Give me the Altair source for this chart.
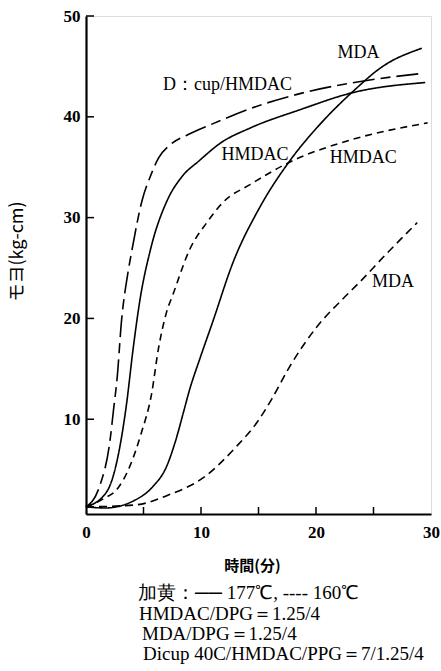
import altair as alt
import pandas as pd

# ---- data ----
dicup_t = [0, 1.2, 2.1, 2.4, 2.7, 3.1, 3.6, 4.0, 4.9, 5.6, 6.3, 7.3, 8.8, 10.8, 14.5, 18.6, 24.4, 29.2]
dicup_v = [1.3, 3.4, 8.0, 11.0, 14.0, 19.9, 24.2, 26.8, 31.8, 34.1, 35.9, 37.2, 38.2, 39.2, 40.9, 42.3, 43.6, 44.3]

hm177_t = [0, 1.8, 2.9, 3.5, 4.1, 4.7, 5.6, 7.1, 8.3, 9.9, 11.7, 14.3, 18.6, 23.2, 29.5]
hm177_v = [1.3, 2.8, 7.0, 11.3, 17.0, 21.9, 26.8, 31.8, 34.0, 35.7, 37.4, 38.9, 40.7, 42.4, 43.4]

hm160_t = [0, 1.5, 2.8, 3.8, 4.8, 5.7, 6.3, 7.0, 7.6, 9.0, 10.5, 11.9, 14.3, 17.7, 23.0, 29.7]
hm160_v = [1.3, 2.1, 3.2, 5.3, 8.6, 12.5, 17.0, 20.6, 22.5, 26.8, 29.5, 31.5, 33.3, 35.5, 37.7, 39.4]

mda177_t = [0, 1.7, 4.3, 5.8, 7.0, 7.8, 8.5, 9.0, 9.9, 11.0, 12.8, 15.1, 17.7, 20.3, 23.2, 25.8, 29.2]
mda177_v = [1.3, 1.2, 2.0, 3.3, 5.3, 7.9, 10.8, 12.9, 16.0, 19.6, 25.6, 31.0, 35.6, 39.2, 42.5, 45.0, 46.8]

mda160_t = [0, 4.3, 7.2, 10.2, 13.0, 15.0, 16.1, 17.7, 20.1, 22.3, 23.8, 26.2, 28.8]
mda160_v = [1.3, 1.5, 2.5, 4.2, 7.2, 9.9, 11.9, 15.2, 19.2, 21.9, 23.6, 26.5, 29.5]

label_text = ["MDA", "D：cup/HMDAC", "HMDAC", "HMDAC", "MDA"]
label_t = [23.7, 12.3, 14.7, 24.1, 26.7]
label_v = [46.3, 43.2, 36.2, 35.9, 23.6]

x_ticks = [0, 5, 10, 15, 20, 25, 30]
y_ticks = [10, 20, 30, 40, 50]

footer_lines = [
    "加黄：── 177℃, ---- 160℃",
    "HMDAC/DPG＝1.25/4",
    "MDA/DPG＝1.25/4",
    "Dicup 40C/HMDAC/PPG＝7/1.25/4",
]

W, H = 345, 498
SERIF = "Liberation Serif"
CJK = "Noto Sans CJK JP"

rows = []
for name, ts, vs in [("dicup", dicup_t, dicup_v), ("hm177", hm177_t, hm177_v),
                     ("hm160", hm160_t, hm160_v), ("mda177", mda177_t, mda177_v),
                     ("mda160", mda160_t, mda160_v)]:
    for i, (t, v) in enumerate(zip(ts, vs)):
        rows.append({"series": name, "t": t, "v": v, "o": i})
df = pd.DataFrame(rows)

xs = alt.Scale(domain=[0, 30], nice=False)
ys = alt.Scale(domain=[0.6, 50], nice=False)

dash_map = {"dicup": [22, 6, 10, 6], "hm177": [1, 0], "hm160": [7, 5],
            "mda177": [1, 0], "mda160": [8, 5]}

lines = []
for name, dash in dash_map.items():
    lines.append(
        alt.Chart(df[df.series == name]).mark_line(
            color="black", strokeWidth=1.6, strokeDash=dash, interpolate="monotone"
        ).encode(
            x=alt.X("t:Q", scale=xs,
                    axis=alt.Axis(values=[0, 10, 20, 30], title="時間(分)", ticks=False,
                                  labelFont=SERIF, labelFontSize=17, labelFontWeight="bold",
                                  labelColor="black", labelPadding=10,
                                  titleFont=CJK, titleFontSize=15, titleFontWeight="bold",
                                  titleColor="black", titleX=166, titleY=51,
                                  titleBaseline="middle",
                                  domainColor="black", domainWidth=2.2, grid=False,
                                  labelFlush=False)),
            y=alt.Y("v:Q", scale=ys,
                    axis=alt.Axis(values=y_ticks, title="モヨ(kg-cm)", ticks=False,
                                  labelFont=SERIF, labelFontSize=17, labelFontWeight="bold",
                                  labelColor="black", labelPadding=6,
                                  titleFont=CJK, titleFontSize=18, titleFontWeight="normal",
                                  titleColor="black", titleX=-69, titleY=235,
                                  titleAngle=270, titleBaseline="middle",
                                  domainColor="black", domainWidth=2.2, grid=False)),
            order="o:Q",
        )
    )

xtick_df = pd.DataFrame({"t": x_ticks[1:-1]})
xticks = alt.Chart(xtick_df).mark_rule(color="black", strokeWidth=1.5).encode(
    x=alt.X("t:Q", scale=xs), y=alt.value(H), y2=alt.value(H - 7))

ytick_df = pd.DataFrame({"v": y_ticks})
yticks = alt.Chart(ytick_df).mark_rule(color="black", strokeWidth=1.5).encode(
    y=alt.Y("v:Q", scale=ys), x=alt.value(0), x2=alt.value(8))

lab_df = pd.DataFrame({"text": label_text, "t": label_t, "v": label_v})
labels = alt.Chart(lab_df).mark_text(
    font=SERIF, fontSize=18, color="black", align="center", baseline="middle"
).encode(x=alt.X("t:Q", scale=xs), y=alt.Y("v:Q", scale=ys), text="text:N")

foot_df = pd.DataFrame({"text": footer_lines,
                        "px": [52, 53, 56, 57],
                        "py": [79, 100, 120, 140]})
footer = alt.Chart(foot_df).transform_calculate(
    py2="datum.py + %d" % H
).mark_text(
    font=SERIF, fontSize=19, color="black", align="left", baseline="middle"
).encode(x=alt.X("px:Q", scale=None), y=alt.Y("py2:Q", scale=None), text="text:N")

chart = alt.layer(*lines, xticks, yticks, labels, footer).properties(
    width=W, height=H,
    autosize=alt.AutoSizeParams(type="none"),
    padding={"left": 86, "top": 16, "right": 10, "bottom": 157},
).configure_view(stroke="black", strokeWidth=1.2).configure(background="white")

chart.save("out.html", embed_options={"renderer": "svg", "actions": False})
